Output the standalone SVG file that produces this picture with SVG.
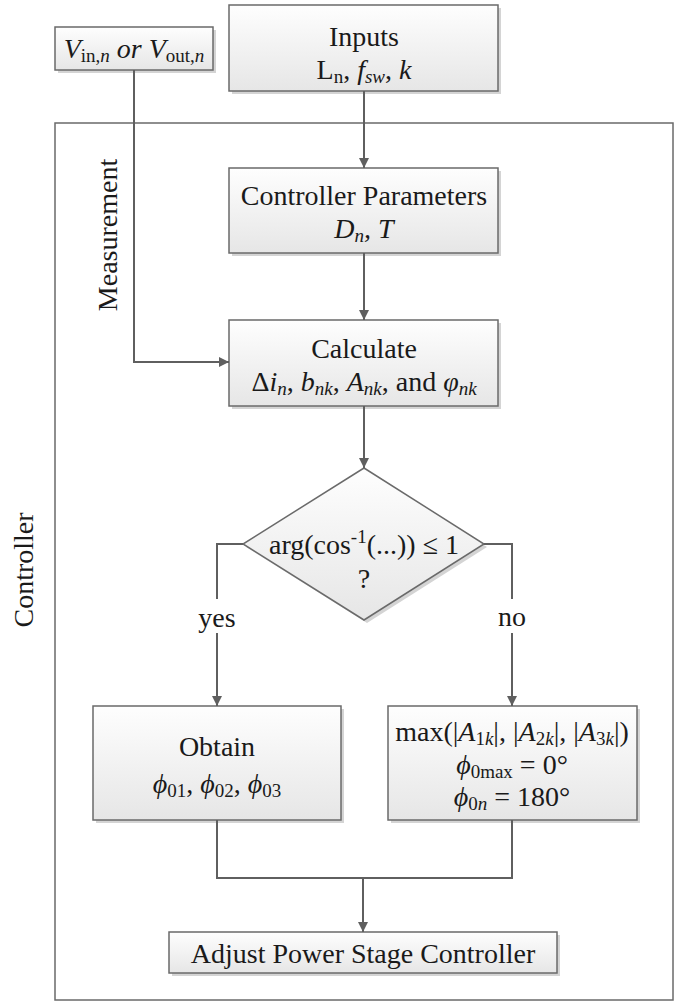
<svg xmlns="http://www.w3.org/2000/svg" width="681" height="1003" viewBox="0 0 681 1003">
  <defs>
    <linearGradient id="boxFill" x1="0" y1="0" x2="0" y2="1">
      <stop offset="0" stop-color="#fefefe"/>
      <stop offset="1" stop-color="#e6e6e6"/>
    </linearGradient>
    <marker id="arrow" viewBox="0 0 10 10" refX="10" refY="5" markerWidth="10" markerHeight="10" markerUnits="userSpaceOnUse" orient="auto">
      <path d="M0,0 L10,5 L0,10 Z" fill="#5f5f5f"/>
    </marker>
  </defs>
  <style>
    .box { fill: url(#boxFill); stroke: #6a6a6a; stroke-width: 1.5; }
    .shadow { fill: #d4d4d4; }
    .frame { fill: none; stroke: #6a6a6a; stroke-width: 1.5; }
    .wire { fill: none; stroke: #5f5f5f; stroke-width: 2; }
    .arrowed { marker-end: url(#arrow); }
    text { font-family: "Liberation Serif", "Times New Roman", serif; font-size: 28px; fill: #1a1a1a; text-anchor: middle; }
    .it { font-style: italic; }
    .sub { font-size: 19px; }
  </style>

  <rect width="681" height="1003" fill="#ffffff"/>

  <!-- Controller frame -->
  <g id="controller">
    <rect class="frame" x="55" y="123" width="618" height="877"/>
    <text transform="translate(33,570) rotate(-90)">Controller</text>
  </g>

  <!-- Measurement input -->
  <g id="measurement-input">
    <rect class="shadow" x="58" y="30" width="158" height="43"/>
    <rect class="box" x="55" y="27" width="158" height="43"/>
    <text x="134" y="58"><tspan class="it">V</tspan><tspan class="sub" dy="4">in,</tspan><tspan class="sub it">n</tspan><tspan class="it" dy="-4"> or V</tspan><tspan class="sub" dy="4">out,</tspan><tspan class="sub it">n</tspan></text>
  </g>

  <g id="inputs">
    <rect class="shadow" x="232" y="8" width="269" height="86"/>
    <rect class="box" x="229" y="5" width="269" height="86"/>
    <text x="364" y="46">Inputs</text>
    <text x="364" y="79">L<tspan class="sub" dy="4">n</tspan><tspan dy="-4">, </tspan><tspan class="it">f</tspan><tspan class="sub it" dy="4">sw</tspan><tspan dy="-4">, </tspan><tspan class="it">k</tspan></text>
  </g>

  <g id="controller-parameters">
    <rect class="shadow" x="232" y="171" width="269" height="85"/>
    <rect class="box" x="229" y="168" width="269" height="85"/>
    <text x="364" y="205">Controller Parameters</text>
    <text x="364" y="238"><tspan class="it">D</tspan><tspan class="sub it" dy="4">n</tspan><tspan class="it" dy="-4">, T</tspan></text>
  </g>

  <g id="calculate">
    <rect class="shadow" x="232" y="323" width="269" height="86"/>
    <rect class="box" x="229" y="320" width="269" height="86"/>
    <text x="364" y="358">Calculate</text>
    <text x="364" y="391">Δ<tspan class="it">i</tspan><tspan class="sub it" dy="4">n</tspan><tspan dy="-4">, </tspan><tspan class="it">b</tspan><tspan class="sub it" dy="4">nk</tspan><tspan dy="-4">, </tspan><tspan class="it">A</tspan><tspan class="sub it" dy="4">nk</tspan><tspan dy="-4">, and </tspan><tspan class="it">φ</tspan><tspan class="sub it" dy="4">nk</tspan></text>
  </g>

  <g id="decision">
    <polygon class="shadow" points="367,471 487,547 367,623 246,547"/>
    <polygon class="box" points="364,468 484,544 364,620 243,544"/>
    <text x="364" y="554">arg(cos<tspan class="sub" dy="-11">-1</tspan><tspan dy="11">(...)) ≤ 1</tspan></text>
    <text x="364" y="588">?</text>
  </g>

  <g id="obtain">
    <rect class="shadow" x="96" y="709" width="248" height="114"/>
    <rect class="box" x="93" y="706" width="248" height="114"/>
    <text x="217" y="756">Obtain</text>
    <text x="217" y="793"><tspan class="it">ϕ</tspan><tspan class="sub" dy="4">01</tspan><tspan dy="-4">, </tspan><tspan class="it">ϕ</tspan><tspan class="sub" dy="4">02</tspan><tspan dy="-4">, </tspan><tspan class="it">ϕ</tspan><tspan class="sub" dy="4">03</tspan></text>
  </g>

  <g id="maximum">
    <rect class="shadow" x="391" y="709" width="249" height="114"/>
    <rect class="box" x="388" y="706" width="249" height="114"/>
    <text x="512" y="741">max(|<tspan class="it">A</tspan><tspan class="sub" dy="4">1</tspan><tspan class="sub it">k</tspan><tspan dy="-4">|, |</tspan><tspan class="it">A</tspan><tspan class="sub" dy="4">2</tspan><tspan class="sub it">k</tspan><tspan dy="-4">|, |</tspan><tspan class="it">A</tspan><tspan class="sub" dy="4">3</tspan><tspan class="sub it">k</tspan><tspan dy="-4">|)</tspan></text>
    <text x="512" y="774"><tspan class="it">ϕ</tspan><tspan class="sub" dy="4">0max</tspan><tspan dy="-4"> = 0°</tspan></text>
    <text x="512" y="806"><tspan class="it">ϕ</tspan><tspan class="sub" dy="4">0</tspan><tspan class="sub it">n</tspan><tspan dy="-4"> = 180°</tspan></text>
  </g>

  <g id="adjust">
    <rect class="shadow" x="172" y="935" width="388" height="41"/>
    <rect class="box" x="169" y="932" width="388" height="41"/>
    <text x="363" y="963">Adjust Power Stage Controller</text>
  </g>

  <!-- Connectors -->
  <g id="connectors">
    <path class="wire arrowed" d="M364,91 V168"/>
    <path class="wire arrowed" d="M364,253 V320"/>
    <path class="wire arrowed" d="M134,70 V362 H229"/>
    <path class="wire arrowed" d="M364,406 V468"/>
    <path class="wire" d="M243,544 H217 V599"/>
    <path class="wire arrowed" d="M217,633 V706"/>
    <path class="wire" d="M484,544 H512 V599"/>
    <path class="wire arrowed" d="M512,633 V706"/>
    <path class="wire" d="M217,820 V878 H512 V820"/>
    <path class="wire arrowed" d="M363,878 V932"/>
    <text x="217" y="627">yes</text>
    <text x="512" y="626">no</text>
    <text transform="translate(117,235) rotate(-90)">Measurement</text>
  </g>
</svg>
